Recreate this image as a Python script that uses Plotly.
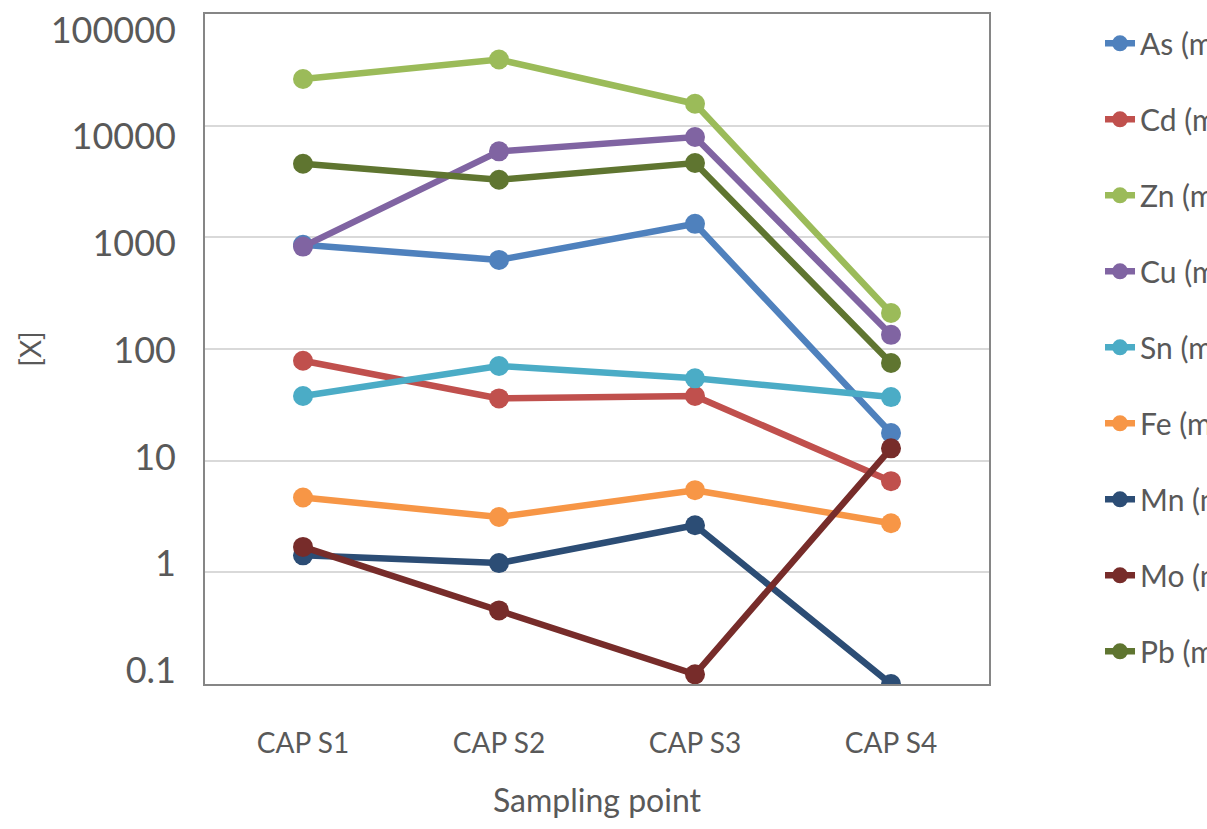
import plotly.graph_objects as go

# Sampling points along the x axis
sampling_points = ["CAP S1", "CAP S2", "CAP S3", "CAP S4"]

# Element concentrations at each sampling point
as_vals = [857, 628, 1321, 17.7]
cd_vals = [78.5, 36.1, 37.9, 6.55]
zn_vals = [26200, 39100, 15700, 210]
cu_vals = [826, 5890, 7920, 134]
sn_vals = [37.9, 70.4, 54.6, 37.1]
fe_vals = [4.68, 3.13, 5.44, 2.75]
mn_vals = [1.42, 1.21, 2.64, 0.1]
mo_vals = [1.69, 0.456, 0.122, 12.9]
pb_vals = [4560, 3280, 4630, 74.9]

series_names = ["As (mg/kg)", "Cd (mg/kg)", "Zn (mg/kg)", "Cu (mg/kg)", "Sn (mg/kg)",
                "Fe (mg/kg)", "Mn (mg/kg)", "Mo (mg/kg)", "Pb (mg/kg)"]
series_values = [as_vals, cd_vals, zn_vals, cu_vals, sn_vals, fe_vals, mn_vals, mo_vals, pb_vals]
series_colors = ["#4F81BD", "#C0504D", "#9BBB59", "#8064A2", "#4BACC6",
                 "#F79646", "#2C4D75", "#772C2A", "#5F7530"]

# Log-axis tick positions and labels
tick_vals = [0.1, 1, 10, 100, 1000, 10000, 100000]
tick_text = ["0.1", "1", "10", "100", "1000", "10000", "100000"]

FONT = "Lato, 'Open Sans', sans-serif"
GREY = "#595959"

fig = go.Figure()
for name, vals, color in zip(series_names, series_values, series_colors):
    fig.add_trace(go.Scatter(
        x=sampling_points, y=vals, name=name, legendgroup=name,
        mode="lines+markers",
        line=dict(color=color, width=6.5),
        marker=dict(color=color, size=20),
    ))

# empty trace that binds the label axis so it gets drawn
fig.add_trace(go.Scatter(x=[], y=[], yaxis="y2", showlegend=False, hoverinfo="skip"))

fig.update_layout(
    width=1207, height=829,
    margin=dict(l=205, r=218, t=14, b=145, autoexpand=False),
    plot_bgcolor="white", paper_bgcolor="white",
    font=dict(family=FONT, color=GREY),
    showlegend=True,
    legend=dict(
        x=1.1416, y=0.995, xanchor="left", yanchor="top",
        traceorder="grouped", tracegroupgap=34,
        font=dict(size=30, color=GREY, family=FONT),
        bgcolor="rgba(0,0,0,0)",
    ),
    xaxis=dict(
        type="category", categoryorder="array", categoryarray=sampling_points,
        range=[-0.5, 3.5],
        showline=True, mirror=True, linecolor="#868686", linewidth=2,
        showgrid=False, ticks="", ticklabelstandoff=33,
        tickfont=dict(size=28, color=GREY, family=FONT),
        title=dict(text="Sampling point", font=dict(size=32, color=GREY, family=FONT), standoff=32),
    ),
    yaxis=dict(
        type="log", range=[-1, 5], tickvals=tick_vals,
        showticklabels=False, ticks="",
        showgrid=True, gridcolor="#D9D9D9", gridwidth=2,
        showline=True, mirror=True, linecolor="#868686", linewidth=2,
        zeroline=False,
    ),
    # label axis sharing the plot area, carrying the tick text and the title
    yaxis2=dict(
        overlaying="y", side="left", type="log", range=[-1.127, 5.15],
        tickvals=tick_vals, ticktext=tick_text, ticks="",
        showgrid=False, showline=False, zeroline=False,
        ticklabelstandoff=28,
        tickfont=dict(size=36, color=GREY, family=FONT),
        title=dict(text="[X]", font=dict(size=28, color=GREY, family=FONT), standoff=0),
    ),
)

fig.write_html("out.html")
